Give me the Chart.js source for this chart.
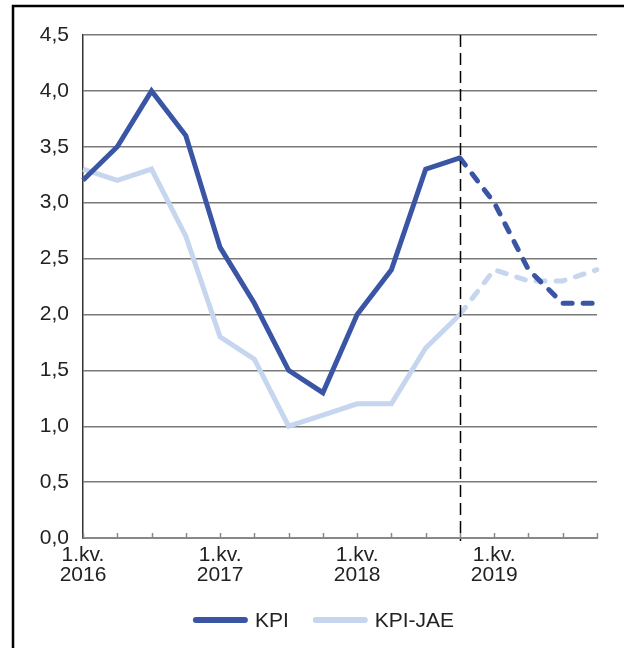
<!DOCTYPE html>
<html>
<head>
<meta charset="utf-8">
<script src="https://cdn.jsdelivr.net/npm/chart.js@4/dist/chart.umd.min.js"></script>
<style>
  html, body { margin: 0; padding: 0; background: #fff; }
  #wrap { position: relative; width: 624px; height: 648px; }
</style>
</head>
<body>
<div id="wrap"><canvas id="c" width="624" height="648"></canvas></div>
<script>
// Quarterly inflation, 2016–2019 (forecast from 4th quarter 2018)
const quarters = [
  '1.kv. 2016','2.kv. 2016','3.kv. 2016','4.kv. 2016',
  '1.kv. 2017','2.kv. 2017','3.kv. 2017','4.kv. 2017',
  '1.kv. 2018','2.kv. 2018','3.kv. 2018','4.kv. 2018',
  '1.kv. 2019','2.kv. 2019','3.kv. 2019','4.kv. 2019'
];
const years = ['2016', '2017', '2018', '2019'];
const kpi    = [3.2, 3.5, 4.0, 3.6, 2.6, 2.1, 1.5, 1.3, 2.0, 2.4, 3.3, 3.4, 3.0, 2.4, 2.1, 2.1];
const kpiJae = [3.3, 3.2, 3.3, 2.7, 1.8, 1.6, 1.0, 1.1, 1.2, 1.2, 1.7, 2.0, 2.4, 2.3, 2.3, 2.4];
const forecastStart = 11; // index of 4.kv. 2018
const yTicks = { min: 0, max: 4.5, step: 0.5 };

const FONT = '"Liberation Sans", Arial, sans-serif';
const TEXT = '#222222';
const DARK = '#3b55a5';
const LIGHT = '#c6d6ee';

const forecastSegment = {
  borderDash: ctx => ctx.p0DataIndex >= forecastStart ? [9, 11] : undefined,
  borderCapStyle: ctx => ctx.p0DataIndex >= forecastStart ? 'round' : 'butt'
};

// outer frame, inward x ticks, forecast marker and legend
const decor = {
  id: 'decor',
  afterDatasetsDraw(chart) {
    const { ctx, chartArea, scales } = chart;
    const x = scales.x;
    ctx.save();
    // inward tick marks on the x axis
    ctx.strokeStyle = '#888888';
    ctx.lineWidth = 1.5;
    for (let i = 0; i < quarters.length; i++) {
      const px = Math.round(x.getPixelForValue(i)) + 0.5;
      ctx.beginPath();
      ctx.moveTo(px, chartArea.bottom);
      ctx.lineTo(px, chartArea.bottom - 5);
      ctx.stroke();
    }
    // forecast start marker
    const fx = Math.round(x.getPixelForValue(forecastStart)) + 0.5;
    ctx.strokeStyle = '#000';
    ctx.lineWidth = 1.5;
    ctx.setLineDash([12, 6]);
    ctx.beginPath();
    ctx.moveTo(fx, chartArea.top);
    ctx.lineTo(fx, chartArea.bottom + 3);
    ctx.stroke();
    ctx.setLineDash([]);
    ctx.restore();
  },
  afterDraw(chart) {
    const { ctx } = chart;
    ctx.save();
    // frame
    ctx.strokeStyle = '#000';
    ctx.lineWidth = 2.5;
    ctx.beginPath();
    ctx.moveTo(13, 648);
    ctx.lineTo(13, 6);
    ctx.lineTo(624, 6);
    ctx.stroke();
    // legend
    ctx.font = '21px ' + FONT;
    ctx.textBaseline = 'middle';
    ctx.fillStyle = TEXT;
    const items = chart.data.datasets.map(d => ({ text: d.label, color: d.borderColor }));
    const sample = 55, gapText = 7, gapItem = 24;
    const widths = items.map(it => sample + gapText + ctx.measureText(it.text).width);
    const total = widths.reduce((a, b) => a + b, 0) + gapItem * (items.length - 1);
    let cx = 323.5 - total / 2;
    const cy = 620;
    items.forEach((it, i) => {
      ctx.strokeStyle = it.color;
      ctx.lineWidth = 6;
      ctx.lineCap = 'round';
      ctx.beginPath();
      ctx.moveTo(cx + 3, cy);
      ctx.lineTo(cx + sample - 3, cy);
      ctx.stroke();
      ctx.fillText(it.text, cx + sample + gapText, cy + 1);
      cx += widths[i] + gapItem;
    });
    ctx.restore();
  }
};

new Chart(document.getElementById('c'), {
  type: 'line',
  data: {
    labels: quarters,
    datasets: [
      { label: 'KPI', data: kpi, borderColor: DARK, backgroundColor: DARK,
        borderWidth: 5, pointRadius: 0, tension: 0, segment: forecastSegment },
      { label: 'KPI-JAE', data: kpiJae, borderColor: LIGHT, backgroundColor: LIGHT,
        borderWidth: 5, pointRadius: 0, tension: 0, segment: forecastSegment }
    ]
  },
  options: {
    responsive: false,
    animation: false,
    devicePixelRatio: 1,
    layout: { padding: { left: 0, right: 27, top: 35, bottom: 58 } },
    plugins: { legend: { display: false }, tooltip: { enabled: false } },
    scales: {
      x: {
        offset: false,
        grid: { display: false, drawTicks: false },
        border: { display: true, color: '#888888', width: 2 },
        ticks: {
          autoSkip: false, maxRotation: 0, minRotation: 0, padding: 7,
          color: TEXT, font: { family: FONT, size: 21, lineHeight: '20px' },
          callback: (v, i) => i % 4 === 0 ? ['1.kv.', years[i / 4]] : ''
        },
        afterFit: s => { s.height = 52; }
      },
      y: {
        min: yTicks.min, max: yTicks.max,
        grid: { color: '#7a7a7a', lineWidth: 1.4, drawTicks: false },
        border: { display: true, color: '#333333', width: 1.5 },
        ticks: {
          stepSize: yTicks.step, padding: 14, color: TEXT,
          font: { family: FONT, size: 21 },
          callback: v => Number(v).toFixed(1).replace('.', ',')
        },
        afterFit: s => { s.width = 83; }
      }
    }
  },
  plugins: [decor]
});
</script>
</body>
</html>
